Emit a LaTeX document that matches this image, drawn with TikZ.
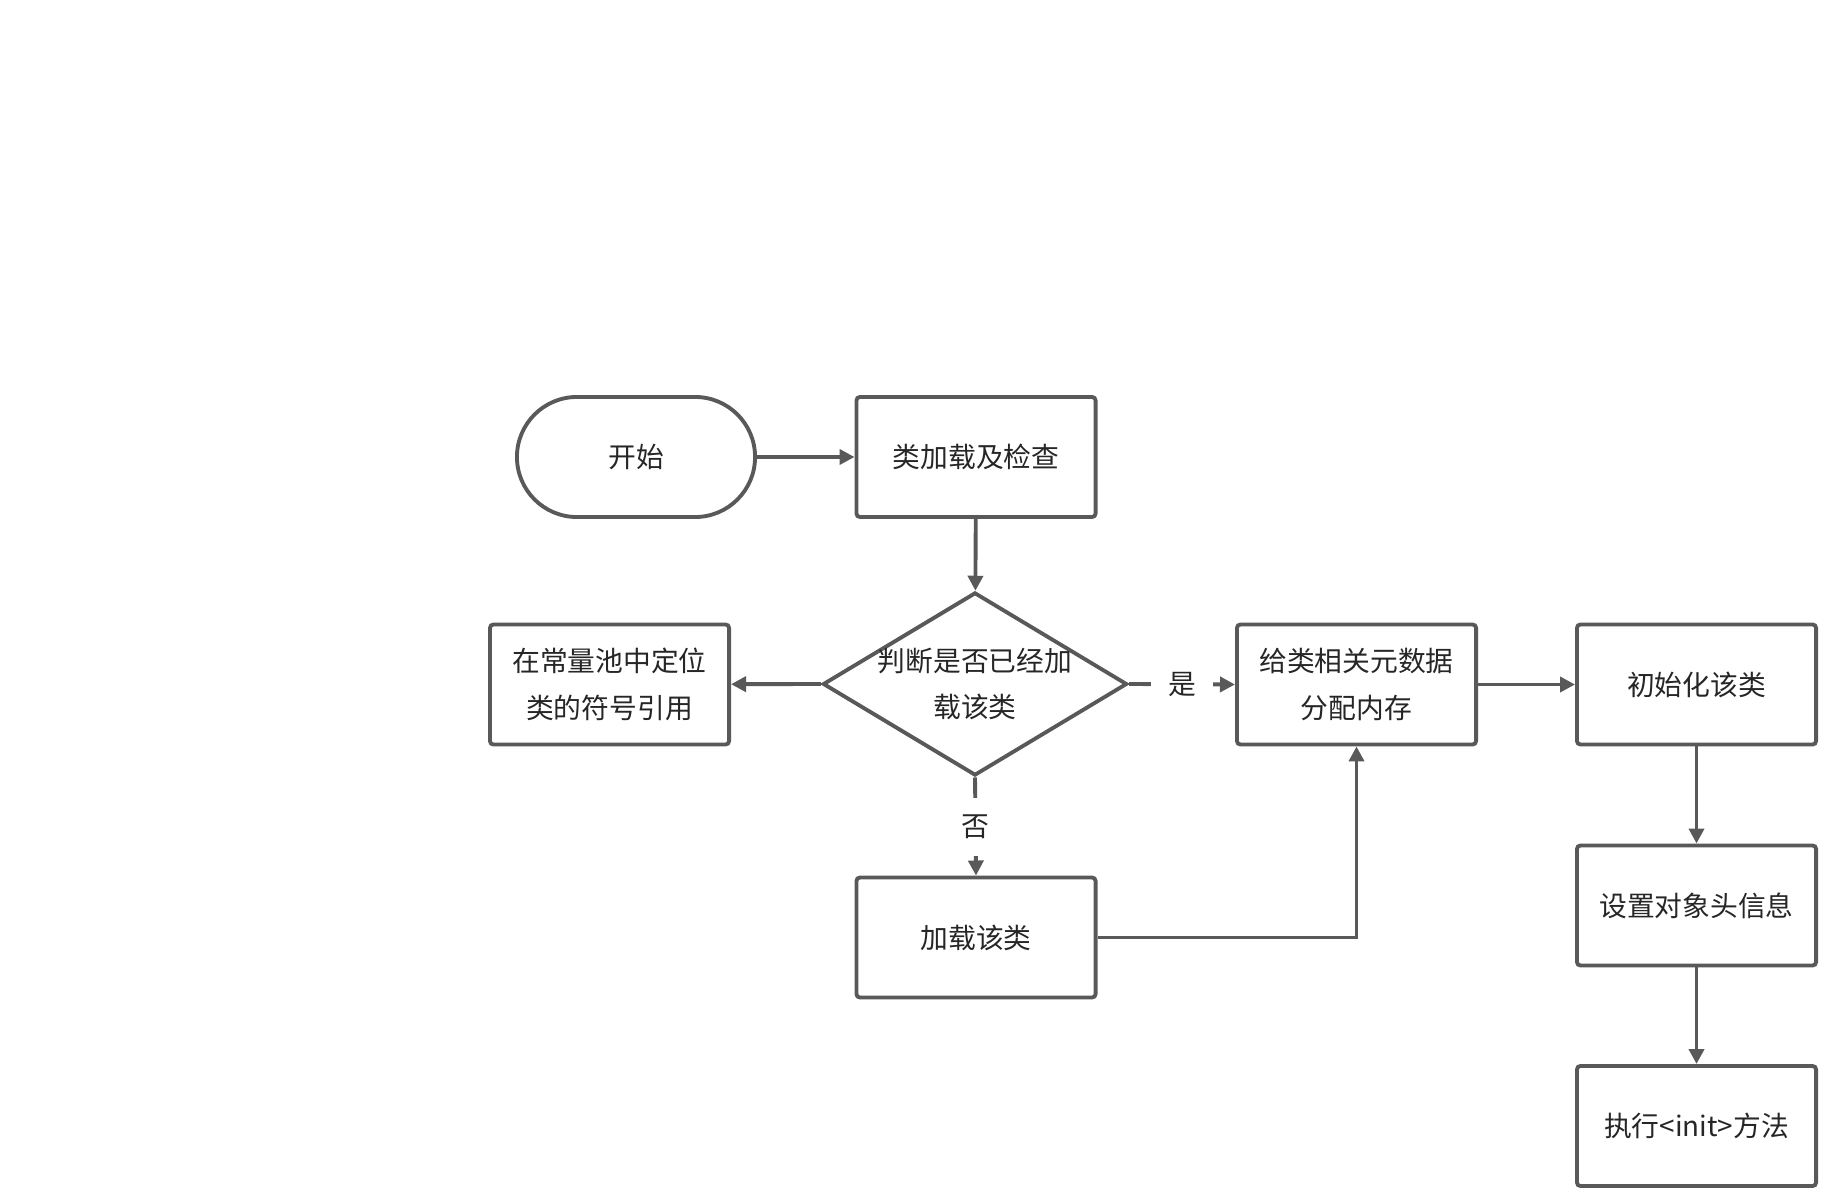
\documentclass[tikz,border=0pt]{standalone}
\usepackage{fontspec}
\setmainfont{Noto Sans CJK SC}
\usetikzlibrary{arrows.meta,shapes.geometric}
\definecolor{ln}{HTML}{595959}
\definecolor{tx}{HTML}{262626}
\begin{document}
\begin{tikzpicture}[x=0.01cm,y=-0.01cm,
  every node/.style={font=\fontsize{7.9pt}{13.3pt}\selectfont, text=tx},
  box/.style={draw=ln, line width=1.1pt, rounded corners=1pt, minimum width=2.39cm, minimum height=1.2cm, inner sep=0pt, align=center, fill=white},
  term/.style={draw=ln, line width=1.1pt, rounded corners=0.6cm, minimum width=2.38cm, minimum height=1.2cm, inner sep=0pt},
  decision/.style={draw=ln, line width=1.1pt, diamond, minimum width=3.04cm, minimum height=1.83cm, inner sep=0pt},
  conn/.style={draw=ln, line width=1.1pt, -{Triangle[length=0.15cm,width=0.15cm]}},
  lbl/.style={fill=white, inner sep=0.17cm}
]
\useasboundingbox (0,0) rectangle (1822,1189);
\node[term] (start) at (636,457) {开始};
\node[box] (check) at (976,457) {类加载及检查};
\node[decision] (dec) at (975,684) {};
\node[align=center] (dectxt) at (975,684) {判断是否已经加\\载该类};
\node[box] (locate) at (609.5,684.5) {在常量池中定位\\类的符号引用};
\node[box] (alloc) at (1356.5,684.5) {给类相关元数据\\分配内存};
\node[box] (init) at (1696.5,684.5) {初始化该类};
\node[box] (header) at (1696.5,905.5) {设置对象头信息};
\node[box] (exec) at (1696.5,1126) {执行<init>方法};
\node[box] (load) at (976,937.5) {加载该类};

\draw[conn] (start) -- (check);
\draw[conn] (check) -- (dec);
\draw[conn] (dec.west) -- (locate);
\draw[conn] (dec.east) -- node[lbl] (yes) {是} (alloc.west);
\draw[conn] (dec.south) -- node[lbl] (no) {否} (load.north);
\draw[conn] (load.east) -| (alloc.south);
\draw[conn] (alloc) -- (init);
\draw[conn] (init) -- (header);
\draw[conn] (header) -- (exec);
\end{tikzpicture}
\end{document}
